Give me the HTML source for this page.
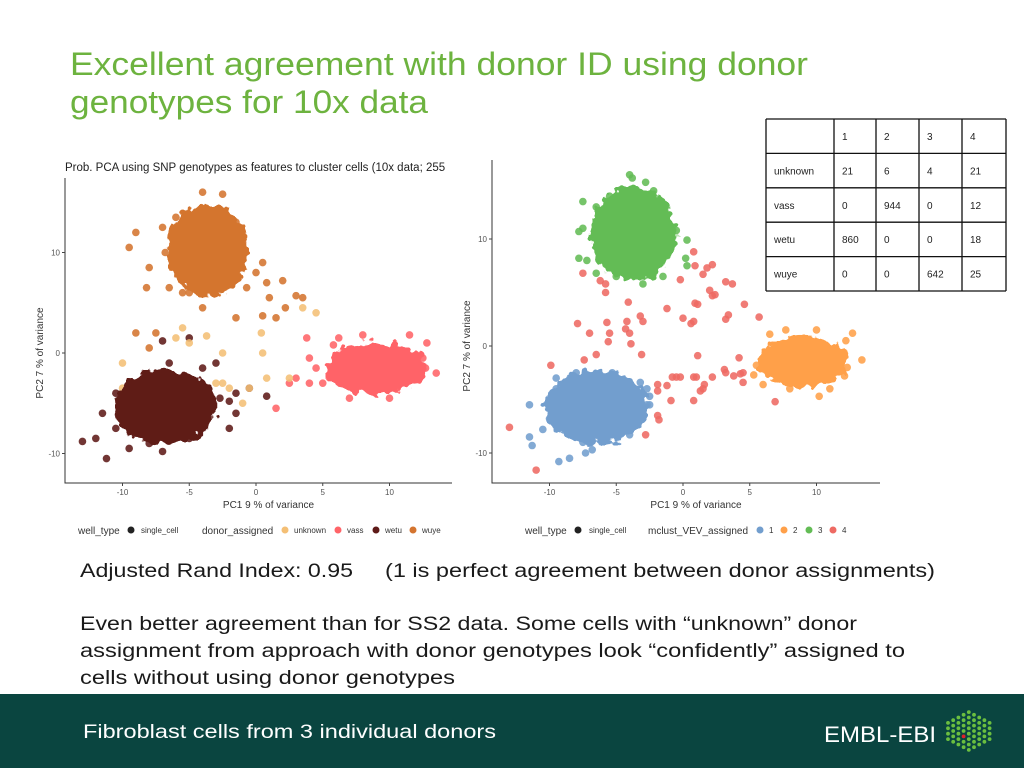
<!DOCTYPE html>
<html><head><meta charset="utf-8"><style>
html,body{margin:0;padding:0;background:#fff;}
svg{display:block;font-family:"Liberation Sans",sans-serif;}
</style></head><body>
<svg id="slide" width="1024" height="768" viewBox="0 0 1024 768">
<defs>
<filter id="rough" x="-30%" y="-30%" width="160%" height="160%">
<feTurbulence type="fractalNoise" baseFrequency="0.12" numOctaves="2" seed="3" result="n"/>
<feDisplacementMap in="SourceGraphic" in2="n" scale="14" xChannelSelector="R" yChannelSelector="G"/>
</filter>
</defs>
<rect width="1024" height="768" fill="#fff"/>
<g fill="#6DB33F" font-size="32">
<text x="70" y="75" textLength="738" lengthAdjust="spacingAndGlyphs">Excellent agreement with donor ID using donor</text>
<text x="70" y="113" textLength="358" lengthAdjust="spacingAndGlyphs">genotypes for 10x data</text>
</g>

<g id="leftPlot"></g>
<g id="rightPlot"></g>
<g id="table"></g>

<g fill="#1a1a1a" font-size="19">
<text x="80" y="577" textLength="273" lengthAdjust="spacingAndGlyphs">Adjusted Rand Index: 0.95</text>
<text x="385" y="577" textLength="550" lengthAdjust="spacingAndGlyphs">(1 is perfect agreement between donor assignments)</text>
<text x="80" y="630" textLength="777" lengthAdjust="spacingAndGlyphs">Even better agreement than for SS2 data. Some cells with “unknown” donor</text>
<text x="80" y="657" textLength="825" lengthAdjust="spacingAndGlyphs">assignment from approach with donor genotypes look “confidently” assigned to</text>
<text x="80" y="684" textLength="375" lengthAdjust="spacingAndGlyphs">cells without using donor genotypes</text>
</g>

<rect x="0" y="694" width="1024" height="74" fill="#0A4540"/>
<text x="83" y="738" font-size="19" fill="#fff" textLength="413" lengthAdjust="spacingAndGlyphs">Fibroblast cells from 3 individual donors</text>
<text x="824" y="742" font-size="22" fill="#fff" textLength="112" lengthAdjust="spacingAndGlyphs">EMBL-EBI</text>
<g id="logo"></g>
</svg>
<script>
const NS="http://www.w3.org/2000/svg";
function mk(parent,tag,attrs){const e=document.createElementNS(NS,tag);for(const k in attrs)e.setAttribute(k,attrs[k]);parent.appendChild(e);return e;}

// ---------- data: left plot ----------
const leftClusterNames=["wuye","wetu","vass"];
const leftClusterCenters=[[-3.6,10.3],[-6.8,-5.4],[9,-1.5]];
const leftClusterSpread=[[3.0,4.6],[3.9,3.7],[3.8,2.6]];
const leftColors={unknown:"#F4BF75",vass:"#FF6468",wetu:"#5E1A18",wuye:"#D4742F"};
const leftWuye=[[-4,16],[-2.5,15.8],[-6,13.5],[-7,12.5],[-9.5,10.5],[-9,12],[-8,8.5],[-8.2,6.5],[-6.5,6.5],[-5.5,6],[0.5,9],[0,8],[0.8,7],[2,7.2],[3,5.7],[3.5,5.5],[1,5.5],[2.2,4.5],[1.5,3.5],[-1.5,3.5],[-8,0.5],[-9,2],[-7.5,2],[-4,4.5],[0.5,3.7],[-1,11],[-1.5,13],[-6.8,10],[-0.7,6.5],[-5,6]];
const leftUnknown=[[-6,1.5],[-3.7,1.7],[-5.5,2.5],[-2.5,0],[0.4,2],[3.5,4.5],[4.5,4],[0.5,0],[-10,-1],[-1,-5],[-2,-3.5],[-2.5,-3],[2.5,-2.5],[0.8,-2.5],[-0.5,-3.5],[-10,-3.5],[-3,-3],[-5,1]];
const leftWetu=[[-13,-8.8],[-11.2,-10.5],[-12,-8.5],[-9.5,-9.5],[-8,-9],[-11.5,-6],[-10.5,-4],[-9.5,-3.5],[-6.5,-1],[-4,-1.5],[-3,-1],[-7,1.2],[-5,1.5],[-6.5,-3.5],[-4.5,-3],[-2,-7.5],[-1.5,-6],[-2.7,-4.5],[-1.5,-4],[-0.5,-3.5],[0.8,-4.3],[-3.5,-5],[-2,-4.8],[-7,-9.8],[-5,-8.5],[-10.5,-7.5]];
const leftVass=[[2.5,-3],[3,-2.5],[1.5,-5.5],[3.8,1.5],[5.8,0.8],[4,-0.5],[4.5,-1.5],[5,-3],[6.5,-2.5],[7,-4.5],[10,-4.5],[12.7,-1.5],[13.5,-2],[12.5,-0.5],[11,-1],[7.8,-3.3],[4,-3],[12.8,1],[6.2,1.5],[8,1.8],[11.5,1.8],[10.5,-3.5]];

// ---------- data: right plot ----------
const rightClusterNames=["3","1","2"];
const rightClusterCenters=[[-3.7,10.5],[-6.5,-5.7],[9,-1.5]];
const rightClusterSpread=[[3.2,4.4],[3.9,3.5],[3.4,2.4]];
const rightColors={"1":"#729ECE","2":"#FFA049","3":"#63BC55","4":"#EE6A63"};
const rightGreen=[[-4,16],[-3.8,15.7],[-2.8,15.3],[-2.2,14.5],[-7.5,13.5],[-6.5,13],[-7.5,11],[-7.8,10.7],[-7.2,8],[-7.8,8.2],[-6.5,6.8],[-5,6.5],[-3,5.8],[-1.5,6.5],[0.2,8.2],[0.3,7.5],[-1.5,8.2],[0.3,9.9],[-0.5,10.8],[-1.5,12.5],[-6,11.5],[-5.5,14]];
const rightBlue=[[-11.5,-8.5],[-11.3,-9.3],[-10.5,-7.8],[-11.5,-5.5],[-10,-5],[-9.5,-4],[-9.3,-10.8],[-8.5,-10.5],[-7.3,-10],[-6.8,-9.7],[-7.5,-9],[-4,-8.3],[-4.5,-7.8],[-2.5,-5.5],[-2.5,-4.7],[-3.2,-3.4],[-2.7,-4],[-5.3,-2.5],[-8,-2.5],[-9.5,-3],[-2.7,-5.5],[-10,-6.8]];
const rightOrange=[[13.4,-1.3],[12.7,1.2],[12.2,0.5],[12.3,-2],[11.7,-0.8],[12.1,-2.8],[10.2,-4.7],[5.3,-2.7],[5.5,-1.8],[6.2,-0.8],[6,-3.6],[7.7,1.5],[6.5,1.1],[8,-4],[10,1.5],[11,-4]];
const rightRed=[[0.8,8.8],[0.9,7.5],[1.8,7.3],[2.2,7.6],[1.5,6.7],[-0.2,6.2],[3.2,6],[3.7,5.8],[2,5.2],[2.2,4.7],[2.4,4.8],[0.9,4],[1.1,3.9],[4.6,3.9],[-1.2,3.5],[5.7,2.7],[3.4,2.9],[3.2,2.5],[0,2.6],[0.6,2.1],[0.8,2.3],[-4.1,4.1],[-7.5,6.8],[-6.2,6.1],[-5.8,5.8],[-5.8,5],[-7.9,2.1],[-5.7,2.2],[-4.2,2.3],[-3.2,2.8],[-3,2.3],[-4.3,1.6],[-4,1.2],[-7,1.2],[-5.5,1.2],[-5.6,0.4],[-3.9,0.2],[-6.5,-0.8],[-7.4,-1.3],[-3.1,-0.8],[1.1,-0.9],[4.2,-1.1],[3.1,-2.2],[3.2,-2.5],[4.3,-2.6],[4.5,-2.5],[4.5,-3.4],[3.8,-2.8],[-0.5,-2.9],[-0.8,-2.9],[-0.2,-2.9],[0.8,-2.9],[1,-2.9],[2.2,-2.9],[1.6,-3.6],[1.5,-4],[1.3,-4.2],[-1.2,-3.7],[-1.9,-3.6],[-1.9,-4.2],[-0.9,-5.1],[0.8,-5.1],[-1.9,-6.5],[-1.8,-6.9],[-2.8,-8.3],[-9.9,-1.8],[-13,-7.6],[-11,-11.6],[6.9,-5.2]];

const xTicks=[-10,-5,0,5,10];
const yTicks=[10,0,-10];

// ---------- table data ----------
const tableHeader=["","1","2","3","4"];
const tableRowNames=["unknown","vass","wetu","wuye"];
const tableValues=[[21,6,4,21],[0,944,0,12],[860,0,0,18],[0,0,642,25]];

function drawPlot(g,cfg){
  const sx=v=>cfg.x0+v*cfg.kx, sy=v=>cfg.y0-v*cfg.ky;
  const ax=mk(g,"path",{d:`M${cfg.left} ${cfg.top}V${cfg.bottom}H${cfg.right}`,fill:"none",stroke:"#333","stroke-width":1});
  
  
  xTicks.forEach(t=>{
    const tk=mk(g,"line",{x1:sx(t),x2:sx(t),y1:cfg.bottom,y2:cfg.bottom+3,stroke:"#444"});
    
    
    const tl=mk(g,"text",{x:sx(t),y:cfg.bottom+12,"font-size":8,fill:"#555","text-anchor":"middle"});
    tl.textContent=t;
    
    
  });
  yTicks.forEach(t=>{
    const tk=mk(g,"line",{x1:cfg.left-3,x2:cfg.left,y1:sy(t),y2:sy(t),stroke:"#444"});
    
    
    const tl=mk(g,"text",{x:cfg.left-5,y:sy(t)+3,"font-size":8,fill:"#555","text-anchor":"end"});
    tl.textContent=t;
    
    
  });
  const xt=mk(g,"text",{x:(cfg.left+cfg.right)/2+10,y:cfg.bottom+25,"font-size":10,fill:"#333","text-anchor":"middle"});
  xt.textContent="PC1 9 % of variance";
  
  
  const yt=mk(g,"text",{x:0,y:0,"font-size":10,fill:"#333","text-anchor":"middle",transform:`translate(${cfg.ylabX},${cfg.y0}) rotate(-90)`});
  yt.textContent="PC2 7 % of variance";
  
  
  cfg.series.forEach(s=>{
    s.pts.forEach(p=>{
      const c=mk(g,"circle",{cx:sx(p[0]),cy:sy(p[1]),r:3.8,fill:s.color,opacity:0.88});
      
      
    });
  });
  // cluster cores (dense point clouds)
  cfg.centers.forEach((c,i)=>{
    const e=mk(g,"ellipse",{cx:sx(c[0]),cy:sy(c[1]),rx:cfg.spread[i][0]*cfg.kx,ry:cfg.spread[i][1]*cfg.ky,fill:cfg.coreColors[i],filter:"url(#rough)"});
    
    
  });
}

const L=document.getElementById("leftPlot");
const lt=mk(L,"text",{x:65,y:171,"font-size":11.5,fill:"#222"});
lt.textContent="Prob. PCA using SNP genotypes as features to cluster cells (10x data; 255";


drawPlot(L,{x0:256,kx:13.35,y0:353,ky:10.05,left:65,right:452,top:178,bottom:483,ylabX:43,
  names:leftClusterNames,centers:leftClusterCenters,spread:leftClusterSpread,
  coreColors:[leftColors.wuye,leftColors.wetu,leftColors.vass],
  series:[{name:"wuye",color:leftColors.wuye,pts:leftWuye},{name:"wetu",color:leftColors.wetu,pts:leftWetu},{name:"vass",color:leftColors.vass,pts:leftVass},{name:"unknown",color:leftColors.unknown,pts:leftUnknown}]});

const R=document.getElementById("rightPlot");
drawPlot(R,{x0:683,kx:13.35,y0:346,ky:10.7,left:492,right:880,top:160,bottom:483,ylabX:470,
  names:rightClusterNames,centers:rightClusterCenters,spread:rightClusterSpread,
  coreColors:[rightColors["3"],rightColors["1"],rightColors["2"]],
  series:[{name:"3",color:rightColors["3"],pts:rightGreen},{name:"1",color:rightColors["1"],pts:rightBlue},{name:"2",color:rightColors["2"],pts:rightOrange},{name:"4",color:rightColors["4"],pts:rightRed}]});

// legends
function legend(g,items){
  items.forEach(it=>{
    if(it.dot){
      const c=mk(g,"circle",{cx:it.x,cy:530,r:3.5,fill:it.dot});
      
      
    }else{
      const t=mk(g,"text",{x:it.x,y:it.big?534:533,"font-size":it.big?10:8,fill:"#333"});
      t.textContent=it.t;
      
      
    }
  });
}
legend(L,[{x:78,t:"well_type",big:1},{x:131,dot:"#222"},{x:141,t:"single_cell"},{x:202,t:"donor_assigned",big:1},
  {x:285,dot:leftColors.unknown},{x:294,t:"unknown"},{x:338,dot:leftColors.vass},{x:347,t:"vass"},{x:376,dot:leftColors.wetu},{x:385,t:"wetu"},{x:413,dot:leftColors.wuye},{x:422,t:"wuye"}]);
legend(R,[{x:525,t:"well_type",big:1},{x:578,dot:"#222"},{x:589,t:"single_cell"},{x:648,t:"mclust_VEV_assigned",big:1},
  {x:760,dot:rightColors["1"]},{x:769,t:"1"},{x:784,dot:rightColors["2"]},{x:793,t:"2"},{x:809,dot:rightColors["3"]},{x:818,t:"3"},{x:833,dot:rightColors["4"]},{x:842,t:"4"}]);

// table
const T=document.getElementById("table");
const colX=[766,834,876,919,962,1006], rowY=[119,153.4,187.8,222.2,256.6,291];
const bg=mk(T,"rect",{x:766,y:119,width:240,height:172,fill:"#fff"});


colX.forEach(x=>{const l=mk(T,"line",{x1:x,x2:x,y1:119,y2:291,stroke:"#111","stroke-width":1.3});});
rowY.forEach(y=>{const l=mk(T,"line",{x1:766,x2:1006,y1:y,y2:y,stroke:"#111","stroke-width":1.3});});
function cell(txt,c,r){const t=mk(T,"text",{x:colX[c]+8,y:rowY[r]+21,"font-size":10,fill:"#222"});t.textContent=txt;}
tableHeader.forEach((h,c)=>cell(h,c,0));
tableRowNames.forEach((n,r)=>{cell(n,0,r+1);tableValues[r].forEach((v,c)=>cell(v,c+1,r+1));});

// logo hexagon of dots
const G=document.getElementById("logo");
const cols=[4,5,6,7,8,7,6,5,4];
cols.forEach((n,i)=>{
  const x=948+i*5.2, top=731-(n-1)*2.7;
  for(let j=0;j<n;j++){
    const red=(i==3&&j==4);
    const d=mk(G,"circle",{cx:x,cy:top+j*5.4,r:1.9,fill:red?"#E0202A":"#6BBF3F"});
    
    
  }
});
</script>
</body></html>
